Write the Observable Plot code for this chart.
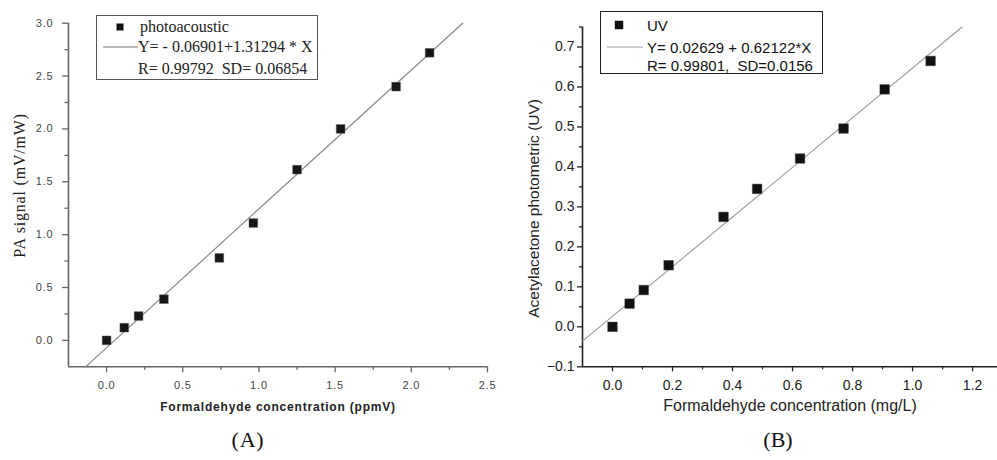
<!DOCTYPE html>
<html>
<head>
<meta charset="utf-8">
<script src="https://cdn.jsdelivr.net/npm/d3@7"></script>
<script src="https://cdn.jsdelivr.net/npm/@observablehq/plot@0.6"></script>
<style>
  html, body { margin: 0; padding: 0; background: #fff; }
  #wrap { position: relative; width: 997px; height: 460px; overflow: hidden; background: #fff; }
  #pa { position: absolute; left: 0; top: 0; }
  #pb { position: absolute; left: 500px; top: 0; }
  .legend { position: absolute; background: #fff; box-sizing: border-box; }
  #legA { left: 96px; top: 15px; width: 222px; height: 65px; border: 1.3px solid #555;
          font-family: "Liberation Serif", serif; font-size: 16px; color: #222; }
  #legB { left: 600px; top: 11px; width: 223px; height: 63px; border: 1.3px solid #222;
          font-family: "Liberation Sans", Arial, sans-serif; font-size: 15px; color: #111; }
  .legend .row { position: absolute; white-space: nowrap; line-height: 1; }
  .legend svg { position: absolute; overflow: visible; }
  #pa svg text { letter-spacing: 0.8px; }
</style>
</head>
<body>
<div id="wrap">
  <div id="pa"></div>
  <div id="pb"></div>
  <div id="legA" class="legend"></div>
  <div id="legB" class="legend"></div>
</div>
<script>
// ---------- Panel A data ----------
const concA = [0, 0.116, 0.21, 0.376, 0.74, 0.963, 1.25, 1.536, 1.90, 2.12];
const signalA = [0, 0.12, 0.23, 0.39, 0.78, 1.11, 1.615, 2.0, 2.40, 2.72];
const fitA = { intercept: -0.06901, slope: 1.31294 };
const fitXA = [-0.138, 2.337];
const xDomA = [-0.25, 2.5];
const yDomA = [-0.25, 3.0];
const xTicksA = [0, 0.5, 1.0, 1.5, 2.0, 2.5];
const xMinorA = [0.25, 0.75, 1.25, 1.75, 2.25];
const yTicksA = [0, 0.5, 1.0, 1.5, 2.0, 2.5, 3.0];
const yMinorA = [0.25, 0.75, 1.25, 1.75, 2.25, 2.75];
const legendA = ["photoacoustic", "Y= - 0.06901+1.31294 * X", "R= 0.99792  SD= 0.06854"];
const xLabelA = "Formaldehyde concentration (ppmV)";
const yLabelA = "PA signal (mV/mW)";
const captionA = "(A)";

// ---------- Panel B data ----------
const concB = [0, 0.057, 0.104, 0.187, 0.37, 0.482, 0.625, 0.77, 0.907, 1.06];
const uvB = [0, 0.058, 0.092, 0.154, 0.275, 0.345, 0.421, 0.496, 0.594, 0.665];
const fitB = { intercept: 0.02629, slope: 0.62122 };
const fitXB = [-0.1, 1.165];
const xDomB = [-0.1, 1.283];
const yDomB = [-0.1, 0.75];
const xTicksB = [0, 0.2, 0.4, 0.6, 0.8, 1.0, 1.2];
const xMinorB = [0.1, 0.3, 0.5, 0.7, 0.9, 1.1];
const yTicksB = [-0.1, 0, 0.1, 0.2, 0.3, 0.4, 0.5, 0.6, 0.7];
const yMinorB = [-0.05, 0.05, 0.15, 0.25, 0.35, 0.45, 0.55, 0.65, 0.75];
const legendB = ["UV", "Y= 0.02629 + 0.62122*X", "R= 0.99801,  SD=0.0156"];
const xLabelB = "Formaldehyde concentration (mg/L)";
const yLabelB = "Acetylacetone photometric (UV)";
const captionB = "(B)";

const ptsA = concA.map((x, i) => ({x, y: signalA[i]}));
const ptsB = concB.map((x, i) => ({x, y: uvB[i]}));
const lineA = fitXA.map(x => ({x, y: fitA.intercept + fitA.slope * x}));
const lineB = fitXB.map(x => ({x, y: fitB.intercept + fitB.slope * x}));
const f1 = d3.format(".1f");

// ---------- Panel A ----------
const axA = "#666";
const plotA = Plot.plot({
  width: 500, height: 460,
  marginLeft: 68, marginRight: 13, marginTop: 22.7, marginBottom: 93.7,
  style: { background: "transparent", fontFamily: "Liberation Sans, Arial, sans-serif", fontSize: "11px", overflow: "visible" },
  x: { domain: xDomA, axis: null },
  y: { domain: yDomA, axis: null },
  marks: [
    Plot.axisX({ ticks: xTicksA, tickSize: 6, tickPadding: 8, tickFormat: f1, label: null, stroke: axA, strokeWidth: 1.3, fill: "#444" }),
    Plot.axisX({ ticks: xMinorA, tickSize: 3.5, tickFormat: () => "", label: null, stroke: axA, strokeWidth: 1.3 }),
    Plot.axisY({ ticks: yTicksA, tickSize: 6, tickPadding: 9, tickFormat: f1, label: null, stroke: axA, strokeWidth: 1.3, fill: "#444" }),
    Plot.axisY({ ticks: yMinorA, tickSize: 3.5, tickFormat: () => "", label: null, stroke: axA, strokeWidth: 1.3 }),
    Plot.ruleX([xDomA[0]], { stroke: axA, strokeWidth: 1.6 }),
    Plot.ruleY([yDomA[0]], { stroke: axA, strokeWidth: 1.6 }),
    Plot.line(lineA, { x: "x", y: "y", stroke: "#888", strokeWidth: 1.2 }),
    Plot.dot(ptsA, { x: "x", y: "y", symbol: "square", r: 4.9, fill: "#161616", stroke: "#555", strokeWidth: 0.5 }),
    Plot.text([xLabelA], { frameAnchor: "bottom", dy: 44, text: d => d, fontWeight: "bold", fontSize: 12, fill: "#222" }),
    Plot.text([yLabelA], { frameAnchor: "left", textAnchor: "middle", dx: -49, dy: -9.5, rotate: -90, text: d => d, fontFamily: "Liberation Serif, serif", fontSize: 16, fill: "#222" }),
    Plot.text([captionA], { frameAnchor: "bottom", dx: -30, dy: 80.4, text: d => d, fontFamily: "Liberation Serif, serif", fontSize: 22, fill: "#111" })
  ]
});
document.getElementById("pa").appendChild(plotA);

// ---------- Panel B ----------
const axB = "#222";
const plotB = Plot.plot({
  width: 497, height: 460,
  marginLeft: 82, marginRight: 0, marginTop: 26.5, marginBottom: 93.7,
  style: { background: "transparent", fontFamily: "Liberation Sans, Arial, sans-serif", fontSize: "14px", overflow: "visible" },
  x: { domain: xDomB, axis: null },
  y: { domain: yDomB, axis: null },
  marks: [
    Plot.axisX({ ticks: xTicksB, tickSize: 5, tickPadding: 8, tickFormat: f1, label: null, stroke: axB, strokeWidth: 1.3, fill: "#222" }),
    Plot.axisX({ ticks: xMinorB, tickSize: 3, tickFormat: () => "", label: null, stroke: axB, strokeWidth: 1.3 }),
    Plot.axisY({ ticks: yTicksB, tickSize: 5, tickPadding: 3, tickFormat: f1, label: null, stroke: axB, strokeWidth: 1.3, fill: "#222" }),
    Plot.axisY({ ticks: yMinorB, tickSize: 3, tickFormat: () => "", label: null, stroke: axB, strokeWidth: 1.3 }),
    Plot.ruleX([xDomB[0]], { stroke: axB, strokeWidth: 1.6 }),
    Plot.ruleY([yDomB[0]], { stroke: axB, strokeWidth: 1.6 }),
    Plot.line(lineB, { x: "x", y: "y", stroke: "#999", strokeWidth: 1.1 }),
    Plot.dot(ptsB, { x: "x", y: "y", symbol: "square", r: 5.4, fill: "#111", stroke: "#444", strokeWidth: 0.5 }),
    Plot.text([xLabelB], { frameAnchor: "bottom", dy: 44, text: d => d, fontSize: 16, fill: "#222" }),
    Plot.text([yLabelB], { frameAnchor: "left", textAnchor: "middle", dx: -48, dy: 11.5, rotate: -90, text: d => d, fontSize: 15.5, fill: "#222" }),
    Plot.text([captionB], { frameAnchor: "bottom", dx: -12, dy: 80.4, text: d => d, fontFamily: "Liberation Serif, serif", fontSize: 22, fill: "#111" })
  ]
});
document.getElementById("pb").appendChild(plotB);

// ---------- Legends ----------
function buildLegend(el, texts, opt) {
  const ns = "http://www.w3.org/2000/svg";
  const svg = document.createElementNS(ns, "svg");
  svg.setAttribute("width", el.clientWidth);
  svg.setAttribute("height", el.clientHeight);
  svg.style.left = "0px"; svg.style.top = "0px";
  const sq = document.createElementNS(ns, "rect");
  sq.setAttribute("x", opt.mx - opt.ms / 2); sq.setAttribute("y", opt.rows[0] - opt.ms / 2);
  sq.setAttribute("width", opt.ms); sq.setAttribute("height", opt.ms);
  sq.setAttribute("fill", "#111");
  svg.appendChild(sq);
  const ln = document.createElementNS(ns, "line");
  ln.setAttribute("x1", opt.lx[0]); ln.setAttribute("x2", opt.lx[1]);
  ln.setAttribute("y1", opt.rows[1]); ln.setAttribute("y2", opt.rows[1]);
  ln.setAttribute("stroke", opt.lc); ln.setAttribute("stroke-width", 1.2);
  svg.appendChild(ln);
  el.appendChild(svg);
  texts.forEach((t, i) => {
    const d = document.createElement("div");
    d.className = "row";
    d.textContent = t;
    d.style.left = opt.tx[i] + "px";
    d.style.top = (opt.rows[i] - opt.fs * 0.5) + "px";
    d.style.whiteSpace = "pre";
    el.appendChild(d);
  });
}
buildLegend(document.getElementById("legA"), legendA,
  { mx: 23, ms: 7, rows: [11, 31, 53], lx: [6, 41], lc: "#777", tx: [43, 41, 41], fs: 16 });
buildLegend(document.getElementById("legB"), legendB,
  { mx: 18, ms: 8.5, rows: [13, 35, 53], lx: [6, 42], lc: "#999", tx: [46, 46, 46], fs: 15 });
</script>
</body>
</html>
